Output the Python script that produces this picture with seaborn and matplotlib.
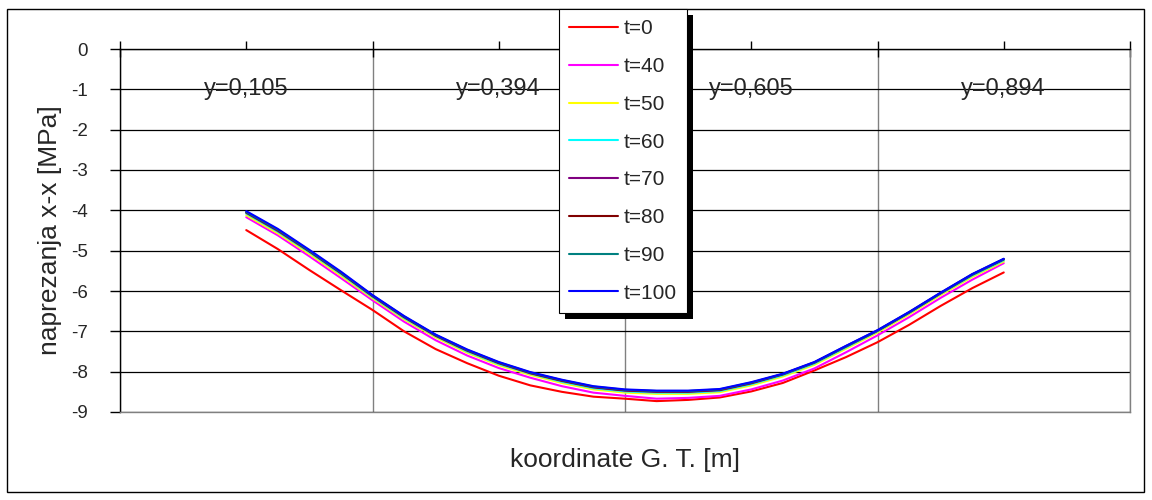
import matplotlib
matplotlib.use('Agg')
import matplotlib.pyplot as plt
import seaborn as sns
import pandas as pd
from matplotlib.patches import Rectangle

# point index along the cross-section (8 points per category)
points = list(range(25))

t_labels = ['t=0', 't=40', 't=50', 't=60', 't=70', 't=80', 't=90', 't=100']
colors = ['#FF0000', '#FF00FF', '#FFFF00', '#00FFFF',
          '#800080', '#800000', '#008080', '#0000FF']

s_t0 = [-4.49, -4.96, -5.48, -5.98, -6.47, -7.00, -7.44, -7.79, -8.10, -8.34,
        -8.50, -8.62, -8.67, -8.73, -8.70, -8.64, -8.49, -8.28, -7.97, -7.64,
        -7.27, -6.84, -6.37, -5.93, -5.54]
s_t40 = [-4.17, -4.62, -5.14, -5.68, -6.23, -6.76, -7.22, -7.60, -7.91, -8.15,
         -8.36, -8.52, -8.60, -8.67, -8.65, -8.60, -8.44, -8.22, -7.92, -7.52,
         -7.10, -6.65, -6.17, -5.72, -5.31]
s_t50 = [-4.12, -4.57, -5.08, -5.62, -6.18, -6.70, -7.15, -7.53, -7.84, -8.08,
         -8.28, -8.44, -8.52, -8.55, -8.55, -8.51, -8.34, -8.12, -7.83, -7.43,
         -7.03, -6.58, -6.10, -5.65, -5.27]
s_t60 = [-4.08, -4.53, -5.04, -5.58, -6.15, -6.67, -7.12, -7.50, -7.81, -8.05,
         -8.25, -8.41, -8.49, -8.52, -8.52, -8.48, -8.31, -8.09, -7.80, -7.40,
         -7.00, -6.55, -6.07, -5.62, -5.24]
s_t70 = [-4.06, -4.51, -5.02, -5.56, -6.13, -6.65, -7.11, -7.48, -7.79, -8.04,
         -8.23, -8.39, -8.47, -8.50, -8.50, -8.46, -8.29, -8.07, -7.78, -7.38,
         -6.99, -6.54, -6.06, -5.60, -5.22]
s_t80 = [-4.05, -4.49, -5.01, -5.55, -6.12, -6.64, -7.10, -7.47, -7.78, -8.03,
         -8.22, -8.38, -8.46, -8.49, -8.49, -8.45, -8.28, -8.06, -7.77, -7.37,
         -6.98, -6.53, -6.05, -5.59, -5.21]
s_t90 = [-4.04, -4.48, -5.00, -5.54, -6.11, -6.63, -7.09, -7.46, -7.77, -8.02,
         -8.21, -8.37, -8.45, -8.48, -8.48, -8.44, -8.27, -8.06, -7.77, -7.37,
         -6.98, -6.53, -6.05, -5.59, -5.21]
s_t100 = [-4.02, -4.46, -4.98, -5.52, -6.10, -6.62, -7.08, -7.45, -7.76, -8.01,
          -8.20, -8.36, -8.44, -8.47, -8.47, -8.43, -8.26, -8.05, -7.76, -7.36,
          -6.97, -6.52, -6.04, -5.58, -5.20]

cat_labels = ['y=0,105', 'y=0,394', 'y=0,605', 'y=0,894']
cat_pos = [0, 8, 16, 24]
cat_edges = [-4, 4, 12, 20, 28]
y_ticks = [0, -1, -2, -3, -4, -5, -6, -7, -8, -9]

series = [s_t0, s_t40, s_t50, s_t60, s_t70, s_t80, s_t90, s_t100]
df = pd.concat([pd.DataFrame({'point': points, 'value': s, 't': lab})
                for s, lab in zip(series, t_labels)], ignore_index=True)

sns.set_theme(style='white')
plt.rcParams['font.family'] = ['Liberation Sans', 'DejaVu Sans']

fig = plt.figure(figsize=(11.52, 5), dpi=100)
ax = fig.add_axes([120 / 1152, 1 - 412 / 500, 1010 / 1152, 363 / 500])

sns.lineplot(data=df, x='point', y='value', hue='t', hue_order=t_labels,
             palette=colors, linewidth=1.5, legend=False, errorbar=None,
             sort=False, ax=ax)

ax.set_xlim(cat_edges[0], cat_edges[-1])
ax.set_ylim(-9, 0)

# spines
ax.spines['left'].set_color('black')
ax.spines['top'].set_color('black')
ax.spines['bottom'].set_color('#808080')
ax.spines['right'].set_color('#808080')
for sp in ax.spines.values():
    sp.set_linewidth(1)

# y axis
ax.set_yticks(y_ticks)
ax.set_yticklabels([str(v) for v in y_ticks])
ax.tick_params(axis='y', direction='out', length=7, width=1, color='black',
               pad=16, labelsize=13.5, left=True)
ax.yaxis.grid(True, color='black', linewidth=0.9)

# x axis sits at y=0 (top)
ax.set_xticks(cat_edges)
ax.set_xticks(cat_pos, minor=True)
ax.tick_params(axis='x', which='both', top=True, bottom=False,
               labeltop=False, labelbottom=False, color='black', width=1)
ax.tick_params(axis='x', which='major', direction='inout', length=12)
ax.tick_params(axis='x', which='minor', direction='out', length=6)
ax.xaxis.grid(True, which='major', color='#808080', linewidth=1)

for p, lab in zip(cat_pos, cat_labels):
    ax.text(p, -1, lab, ha='center', va='center', fontsize=17)

ax.set_xlabel('koordinate G. T. [m]', fontsize=19)
ax.xaxis.set_label_position('bottom')
ax.xaxis.set_label_coords(0.5, -0.1)
ax.set_ylabel('naprezanja x-x [MPa]', fontsize=19, va='center')
ax.yaxis.set_label_coords(-0.069, 0.5)

# legend with solid black shadow
handles = ax.get_lines()
leg = fig.legend(handles, t_labels, loc='upper left',
                 bbox_to_anchor=(559 / 1152, 1 - 9 / 500),
                 bbox_transform=fig.transFigure, borderaxespad=0,
                 frameon=True, fancybox=False, edgecolor='black',
                 framealpha=1, fontsize=15, handlelength=2.35,
                 handletextpad=0.25, labelspacing=0.9, borderpad=0.5)
leg.get_frame().set_linewidth(0.8)

fig.canvas.draw()
bb = leg.get_window_extent().transformed(fig.transFigure.inverted())
fig.add_artist(Rectangle((bb.x0 + 6 / 1152, bb.y0 - 6 / 500), bb.width, bb.height,
                         transform=fig.transFigure, facecolor='black',
                         edgecolor='none', zorder=leg.get_zorder() - 0.5))

# outer chart frame
fig.add_artist(Rectangle((7 / 1152, 1 - 492 / 500), (1144 - 7) / 1152,
                         (492 - 9) / 500, transform=fig.transFigure,
                         fill=False, edgecolor='black', linewidth=1))

fig.savefig('out.png', dpi=100)
